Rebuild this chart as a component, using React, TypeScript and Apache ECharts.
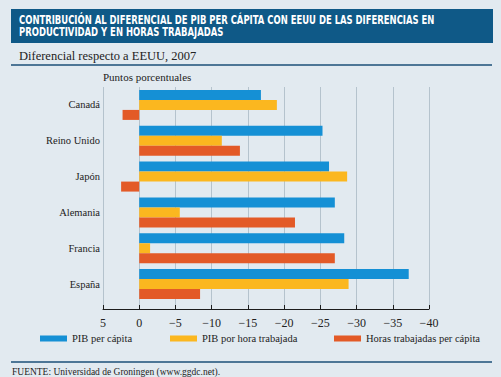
import React, { useEffect, useRef } from "react";
import * as echarts from "echarts";

const categories = ["Canadá", "Reino Unido", "Japón", "Alemania", "Francia", "España"];
const pibPerCapita = [-16.8, -25.3, -26.2, -27.0, -28.3, -37.2];
const pibPorHora = [-19.0, -11.4, -28.7, -5.6, -1.5, -28.9];
const horasPerCapita = [2.3, -13.9, 2.5, -21.5, -27.0, -8.4];
const seriesNames = ["PIB per cápita", "PIB por hora trabajada", "Horas trabajadas per cápita"];
const colors = ["#1590d5", "#fbb71f", "#e35a27"];

const titleLines = [
  "CONTRIBUCIÓN AL DIFERENCIAL DE PIB PER CÁPITA CON EEUU DE LAS DIFERENCIAS EN",
  "PRODUCTIVIDAD Y EN HORAS TRABAJADAS",
];
const subtitle = "Diferencial respecto a EEUU, 2007";
const unitLabel = "Puntos porcentuales";
const footer = "FUENTE: Universidad de Groningen (www.ggdc.net).";

const SERIF = "Liberation Serif";
const TITLE_FONT = "DejaVu Sans";

export default function App() {
  const ref = useRef<HTMLDivElement>(null);
  useEffect(() => {
    if (!ref.current) return;
    const chart = echarts.init(ref.current, undefined, { renderer: "svg" });
    const fmt = (v: number) => (v < 0 ? "\u2212" + Math.abs(v) : String(v));
    const legendLefts = [40, 170, 334];

    const titleFont = `bold 11.5px ${TITLE_FONT}`;
    let titleScale = 0.8;
    const ctx = document.createElement("canvas").getContext("2d");
    if (ctx) {
      ctx.font = titleFont;
      const w = ctx.measureText(titleLines[0]).width;
      if (w > 0) titleScale = 416 / w;
    }

    chart.setOption({
      animation: false,
      backgroundColor: "#e2eaf0",
      grid: [
        { left: 103, width: 326, top: 87, height: 215, containLabel: false },
        { left: 103, width: 326, top: 87, height: 222, containLabel: false },
      ],
      xAxis: [
        {
          gridIndex: 0,
          type: "value",
          min: -40,
          max: 5,
          interval: 5,
          inverse: true,
          show: false,
        },
        {
          gridIndex: 1,
          type: "value",
          min: -40,
          max: 5,
          interval: 5,
          inverse: true,
          axisLine: { show: true, lineStyle: { color: "#1c1c1c", width: 1 } },
          axisTick: { show: true, inside: true, length: 4, lineStyle: { color: "#1c1c1c" } },
          splitLine: { show: true, lineStyle: { color: "#b5c3cd", width: 1 } },
          axisLabel: {
            formatter: fmt,
            fontFamily: SERIF,
            fontSize: 12,
            color: "#222",
            margin: 8,
          },
        },
      ],
      yAxis: [
        {
          gridIndex: 0,
          type: "category",
          data: categories,
          inverse: true,
          axisLine: { show: false },
          axisTick: { show: false },
          axisLabel: { fontFamily: SERIF, fontSize: 10.5, color: "#222", margin: 3 },
        },
        { gridIndex: 1, type: "value", show: false, min: 0, max: 1 },
      ],
      legend: seriesNames.map((n, i) => ({
        data: [n],
        left: legendLefts[i],
        top: 333,
        itemWidth: 27,
        itemHeight: 6,
        itemGap: 5,
        icon: "rect",
        padding: 0,
        textStyle: { fontFamily: SERIF, fontSize: 10.5, color: "#222" },
      })),
      series: [pibPerCapita, pibPorHora, horasPerCapita].map((d, i) => ({
        name: seriesNames[i],
        type: "bar",
        xAxisIndex: 0,
        yAxisIndex: 0,
        data: d,
        barWidth: 10,
        barGap: "0%",
        itemStyle: { color: colors[i] },
      })),
      graphic: [
        {
          type: "rect",
          shape: { x: 11, y: 9, width: 482, height: 34 },
          style: { fill: "#0f5987" },
        },
        {
          type: "text",
          x: 19,
          y: 14,
          scaleX: titleScale,
          style: {
            text: titleLines.join("\n"),
            fill: "#ffffff",
            font: titleFont,
            lineHeight: 12,
          },
        },
        {
          type: "text",
          x: 19,
          y: 49,
          style: { text: subtitle, fill: "#222", font: `12.5px ${SERIF}` },
        },
        {
          type: "line",
          shape: { x1: 11, y1: 65, x2: 492, y2: 65 },
          style: { stroke: "#1b4f78", lineWidth: 1.5 },
        },
        {
          type: "text",
          x: 103,
          y: 71,
          style: { text: unitLabel, fill: "#222", font: `11px ${SERIF}` },
        },
        {
          type: "line",
          shape: { x1: 11, y1: 362, x2: 492, y2: 362 },
          style: { stroke: "#1b4f78", lineWidth: 1.5 },
        },
        {
          type: "text",
          x: 12,
          y: 367,
          style: { text: footer, fill: "#222", font: `9.5px ${SERIF}` },
        },
      ],
    });
    return () => chart.dispose();
  }, []);
  return (
    <div
      ref={ref}
      style={{ position: "fixed", left: 0, top: 0, width: 501, height: 377 }}
    />
  );
}
